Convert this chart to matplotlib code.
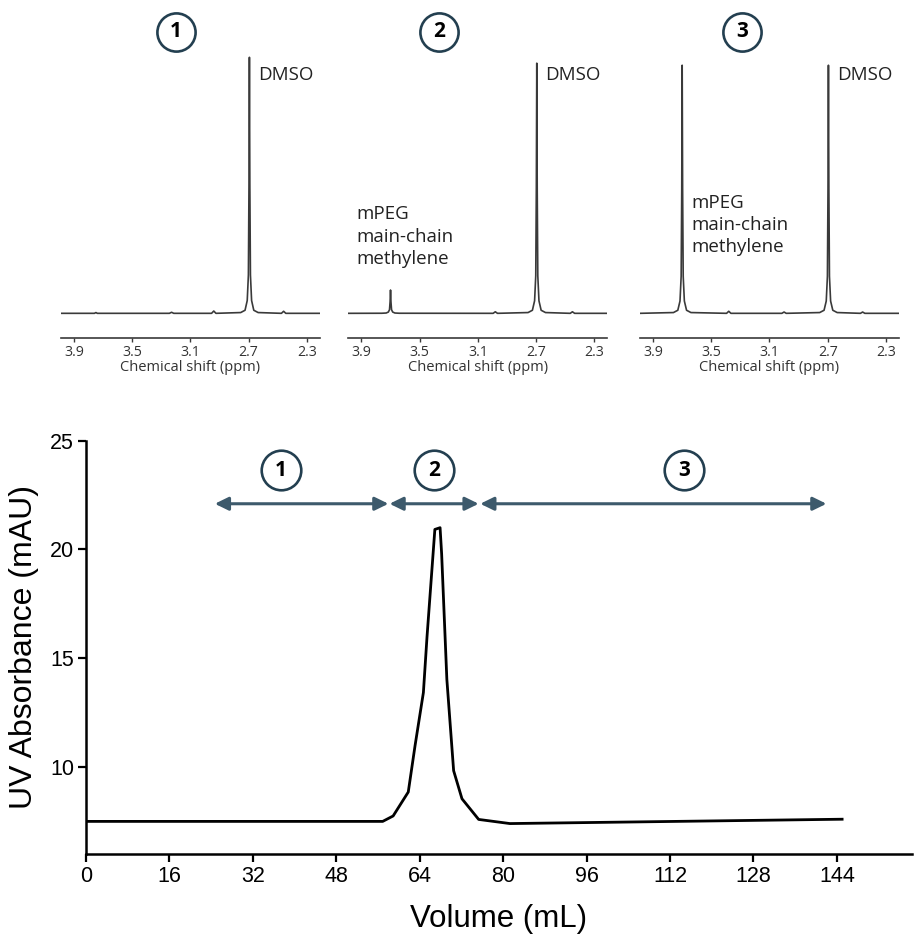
import matplotlib.pyplot as plt

# ---- 1H NMR spectra of the three fractions ----
ppm_ticks = [3.9, 3.5, 3.1, 2.7, 2.3]

ppm1 = [3.99, 3.76, 3.75, 3.74, 3.245, 3.23, 3.215, 2.955, 2.94, 2.925,
        2.755, 2.725, 2.71, 2.702, 2.698, 2.695, 2.692, 2.688, 2.68, 2.665, 2.635,
        2.475, 2.46, 2.445, 2.21]
int1 = [0, 0, 0.003, 0, 0, 0.004, 0, 0, 0.009, 0,
        0.003, 0.012, 0.05, 0.15, 0.5, 1.0, 0.5, 0.15, 0.05, 0.012, 0.003,
        0, 0.008, 0, 0]

ppm2 = [3.99, 3.76, 3.73, 3.715, 3.707, 3.703, 3.70, 3.697, 3.693, 3.685, 3.67, 3.64,
        2.995, 2.98, 2.965,
        2.755, 2.725, 2.71, 2.702, 2.698, 2.695, 2.692, 2.688, 2.68, 2.665, 2.635,
        2.465, 2.45, 2.435, 2.21]
int2 = [0, 0.0003, 0.0012, 0.005, 0.014, 0.045, 0.091, 0.045, 0.014, 0.005, 0.0012, 0.0003,
        0, 0.006, 0,
        0.003, 0.012, 0.049, 0.147, 0.49, 0.977, 0.49, 0.147, 0.049, 0.012, 0.003,
        0, 0.006, 0, 0]

ppm3 = [3.99, 3.76, 3.73, 3.715, 3.707, 3.703, 3.70, 3.697, 3.693, 3.685, 3.67, 3.64,
        3.395, 3.38, 3.365, 3.015, 3.0, 2.985,
        2.755, 2.725, 2.71, 2.702, 2.698, 2.695, 2.692, 2.688, 2.68, 2.665, 2.635,
        2.475, 2.46, 2.445, 2.21]
int3 = [0, 0.003, 0.012, 0.048, 0.145, 0.485, 0.969, 0.485, 0.145, 0.048, 0.012, 0.003,
        0, 0.008, 0, 0, 0.005, 0,
        0.003, 0.012, 0.048, 0.145, 0.485, 0.969, 0.485, 0.145, 0.048, 0.012, 0.003,
        0, 0.005, 0, 0]

# ---- SEC trace ----
vol = [0, 56.9, 58.9, 61.8, 63.1, 64.7, 65.4, 66.9, 67.9, 68.2, 69.2, 70.5, 72.1, 75.3, 81.3, 145]
uv = [7.5, 7.5, 7.75, 8.85, 10.98, 13.42, 16.0, 20.92, 21.0, 19.8, 14.03, 9.83, 8.54, 7.59, 7.40, 7.6]
vol_ticks = [0, 16, 32, 48, 64, 80, 96, 112, 128, 144]
uv_ticks = [10, 15, 20, 25]

frac_labels = ["1", "2", "3"]
frac_start = [24.7, 58.2, 75.6]
frac_end = [58.0, 75.3, 142.0]
frac_label_x = [37.4, 66.8, 114.7]

ring_col = "#233f50"
arrow_col = "#3d5a6c"
spec_col = "#3a3a3a"
nmr_font = "Open Sans"
sec_font = "Liberation Sans"

fig = plt.figure(figsize=(9.14, 9.35), dpi=100)


def circled(ax, x, y, label, transform, ms):
    ax.plot([x], [y], marker="o", ms=ms, mfc="white", mec=ring_col, mew=1.9,
            transform=transform, clip_on=False, zorder=5)
    ax.text(x, y, label, transform=transform, ha="center", va="center",
            fontsize=15, fontweight="bold", family=nmr_font, color="black", zorder=6)


spectra = [(ppm1, int1), (ppm2, int2), (ppm3, int3)]
lefts = [0.0667, 0.3811, 0.7002]
ring_x = [0.443, 0.351, 0.394]
mpeg_pos = [None, (3.932, 0.300), (3.637, 0.345)]

for i, (pp, ii) in enumerate(spectra):
    ax = fig.add_axes([lefts[i], 0.6388, 0.2834, 0.3077])
    ax.plot(pp, ii, color=spec_col, lw=1.2)
    ax.set_xlim(3.99, 2.21)
    ax.set_ylim(-0.0953, 1.0285)
    for s in ["top", "right", "left"]:
        ax.spines[s].set_visible(False)
    ax.spines["bottom"].set_color(spec_col)
    ax.spines["bottom"].set_linewidth(1.2)
    ax.set_yticks([])
    ax.set_xticks(ppm_ticks)
    ax.set_xticklabels([f"{t:.1f}" for t in ppm_ticks], family=nmr_font, fontsize=10.2, color="#333333")
    ax.tick_params(axis="x", length=3, width=1, color=spec_col, pad=2)
    ax.set_xlabel("Chemical shift (ppm)", family=nmr_font, fontsize=10.5, color="#333333", labelpad=0)
    ax.text(2.635, 0.93, "DMSO", family=nmr_font, fontsize=13.5, ha="left", va="center", color="#222222")
    if mpeg_pos[i] is not None:
        mx, my = mpeg_pos[i]
        ax.text(mx, my, "mPEG\nmain-chain\nmethylene", family=nmr_font, fontsize=13.5,
                ha="left", va="center", color="#222222", linespacing=1.32)
    circled(ax, ring_x[i], 1.064, frac_labels[i], ax.transAxes, 27.5)

# ---- bottom SEC chart ----
ax = fig.add_axes([0.0941, 0.0866, 0.9037, 0.4421])
ax.plot(vol, uv, color="black", lw=2.0, solid_joinstyle="round")
ax.set_xlim(0, 158.4)
ax.set_ylim(6, 25)
ax.spines["top"].set_visible(False)
ax.spines["right"].set_visible(False)
for s in ["left", "bottom"]:
    ax.spines[s].set_linewidth(1.8)
ax.set_xticks(vol_ticks)
ax.set_yticks(uv_ticks)
ax.set_xticklabels([str(t) for t in vol_ticks], family=sec_font, fontsize=15.5)
ax.set_yticklabels([str(t) for t in uv_ticks], family=sec_font, fontsize=15.5)
ax.tick_params(axis="both", length=5.5, width=1.6, pad=3)
ax.set_xlabel("Volume (mL)", family=sec_font, fontsize=22.5, labelpad=12)
ax.set_ylabel("UV Absorbance (mAU)", family=sec_font, fontsize=23, labelpad=8)

for x0, x1 in zip(frac_start, frac_end):
    ax.annotate("", xy=(x1, 22.1), xytext=(x0, 22.1),
                arrowprops=dict(arrowstyle="<|-|>,head_length=0.45,head_width=0.22",
                                color=arrow_col, lw=2.2, mutation_scale=18,
                                shrinkA=0, shrinkB=0))
for lx, lab in zip(frac_label_x, frac_labels):
    circled(ax, lx, 23.63, lab, ax.transData, 28.5)

fig.savefig("out.png", dpi=100)
